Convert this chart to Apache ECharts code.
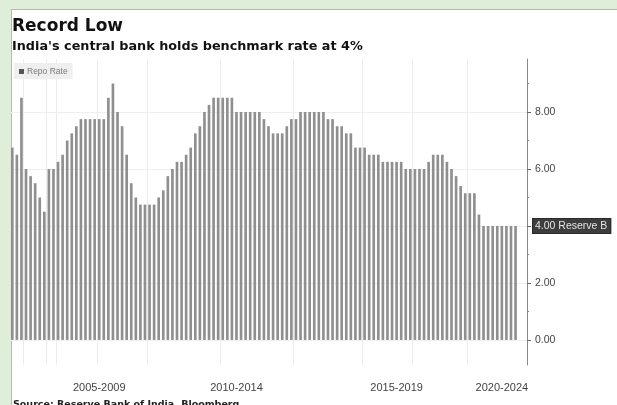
<!DOCTYPE html>
<html>
<head>
<meta charset="utf-8">
<script src="https://cdn.jsdelivr.net/npm/echarts@6/dist/echarts.min.js"></script>
<style>
  html, body { margin: 0; padding: 0; }
  #wrap { position: relative; width: 617px; height: 405px; background: #dfeed8; overflow: hidden; }
  #panel { position: absolute; left: 11px; top: 9px; width: 620px; height: 410px; background: #ffffff; border: 1px solid #b3bdaa; box-sizing: border-box; }
  #chart { position: absolute; left: 0; top: 0; width: 617px; height: 405px; }
</style>
</head>
<body>
<div id="wrap"><div id="panel"></div><div id="chart"></div></div>
<script>
const repoRate = [
  6.75, 6.5, 8.5, 6.0, 5.75, 5.5, 5.0, 4.5, 6.0, 6.0,
  6.25, 6.5, 7.0, 7.25, 7.5, 7.75, 7.75, 7.75, 7.75, 7.75,
  7.75, 8.5, 9.0, 8.0, 7.5, 6.5, 5.5, 5.0, 4.75, 4.75,
  4.75, 4.75, 5.0, 5.25, 5.75, 6.0, 6.25, 6.25, 6.5, 6.75,
  7.25, 7.5, 8.0, 8.25, 8.5, 8.5, 8.5, 8.5, 8.5, 8.0,
  8.0, 8.0, 8.0, 8.0, 8.0, 7.75, 7.5, 7.25, 7.25, 7.25,
  7.5, 7.75, 7.75, 8.0, 8.0, 8.0, 8.0, 8.0, 8.0, 7.75,
  7.75, 7.5, 7.5, 7.25, 7.25, 6.75, 6.75, 6.75, 6.5, 6.5,
  6.5, 6.25, 6.25, 6.25, 6.25, 6.25, 6.0, 6.0, 6.0, 6.0,
  6.0, 6.25, 6.5, 6.5, 6.5, 6.25, 6.0, 5.75, 5.4, 5.15,
  5.15, 5.15, 4.4, 4.0, 4.0, 4.0, 4.0, 4.0, 4.0, 4.0,
  4.0
];
const emptySlotsAtEnd = 2;
const periodLabels = ['2005-2009', '2010-2014', '2015-2019', '2020-2024'];
const periodLabelSlots = [19, 49, 84, 107];
const verticalGridSlots = [3, 8, 10, 19, 30, 46, 62, 77, 88, 100];
const yTickLabels = [0, 2, 4, 6, 8];
const tagSuffix = ' Reserve B';

const categories = [];
for (let i = 0; i < repoRate.length + emptySlotsAtEnd; i++) categories.push(String(i));

const chart = echarts.init(document.getElementById('chart'), null, { renderer: 'canvas' });
const lastValue = repoRate[repoRate.length - 1];
const shownAxisLabels = yTickLabels.filter(function (v) { return v !== lastValue; });

chart.setOption({
  animation: false,
  backgroundColor: 'transparent',
  title: [
    { text: 'Record Low', left: 12, top: 18, padding: 0,
      textStyle: { fontFamily: 'DejaVu Sans', fontWeight: 'bold', fontSize: 17, color: '#111' } },
    { text: "India's central bank holds benchmark rate at 4%", left: 12, top: 40, padding: 0,
      textStyle: { fontFamily: 'DejaVu Sans', fontWeight: 'bold', fontSize: 12.8, color: '#111' } },
    { text: 'Source: Reserve Bank of India, Bloomberg', left: 13, top: 400, padding: 0,
      textStyle: { fontFamily: 'DejaVu Sans', fontWeight: 'bold', fontSize: 9.5, color: '#222' } }
  ],
  legend: {
    left: 14, top: 63,
    padding: [4, 5, 3, 5],
    backgroundColor: '#efefef',
    itemWidth: 5, itemHeight: 5, itemGap: 4,
    icon: 'rect',
    data: [{ name: 'Repo Rate', itemStyle: { color: '#555' } }],
    textStyle: { fontFamily: 'Liberation Sans', fontSize: 8.5, color: '#777', padding: [0, 0, 0, -2] }
  },
  grid: { left: 10, right: 90, top: 59, bottom: 40, containLabel: false },
  xAxis: {
    type: 'category',
    data: categories,
    boundaryGap: true,
    axisLine: { show: false, onZero: false },
    axisTick: { show: false },
    splitLine: {
      show: true,
      interval: function (i) { return verticalGridSlots.indexOf(i) >= 0; },
      lineStyle: { color: '#ececec', width: 1 }
    },
    axisLabel: {
      show: true,
      interval: function (i) { return periodLabelSlots.indexOf(i) >= 0; },
      formatter: function (v, i) {
        const k = periodLabelSlots.indexOf(i);
        return k >= 0 ? periodLabels[k] : '';
      },
      margin: 17,
      fontFamily: 'Liberation Sans', fontSize: 11, color: '#444'
    }
  },
  yAxis: {
    type: 'value',
    position: 'right',
    min: -0.88, max: 9.86,
    axisLine: { show: true, lineStyle: { color: '#8a8a8a', width: 1 } },
    axisTick: { show: true, length: 4, lineStyle: { color: '#666' },
      customValues: yTickLabels },
    minorTick: { show: true, splitNumber: 2, length: 2, lineStyle: { color: '#888' } },
    axisLabel: {
      customValues: shownAxisLabels,
      formatter: function (v) { return v.toFixed(2); },
      margin: 8, fontFamily: 'Liberation Sans', fontSize: 10.5, color: '#444'
    },
    splitLine: { show: false }
  },
  series: [{
    name: 'Repo Rate',
    type: 'bar',
    clip: false,
    data: repoRate,
    barWidth: '58%',
    itemStyle: { color: '#8f8f8f' },
    markLine: {
      silent: true,
      symbol: ['none', 'none'],
      lineStyle: { color: '#efefef', type: 'solid', width: 1 },
      z: 0,
      data: yTickLabels.map(function (v) { return { yAxis: v, label: { show: false } }; }).concat([{
        yAxis: lastValue,
        lineStyle: { color: '#3d3d3d', width: 0, opacity: 1 },
        label: {
          show: true,
          position: 'end',
          distance: 6,
          formatter: function (p) { return p.value.toFixed(2) + tagSuffix; },
          backgroundColor: '#3d3d3d',
          borderColor: '#2a2a2a', borderWidth: 1,
          padding: [2, 3, 1, 2],
          fontFamily: 'Liberation Sans', fontSize: 10.5, color: '#e4e4e4'
        }
      }])
    }
  }]
});
</script>
</body>
</html>
